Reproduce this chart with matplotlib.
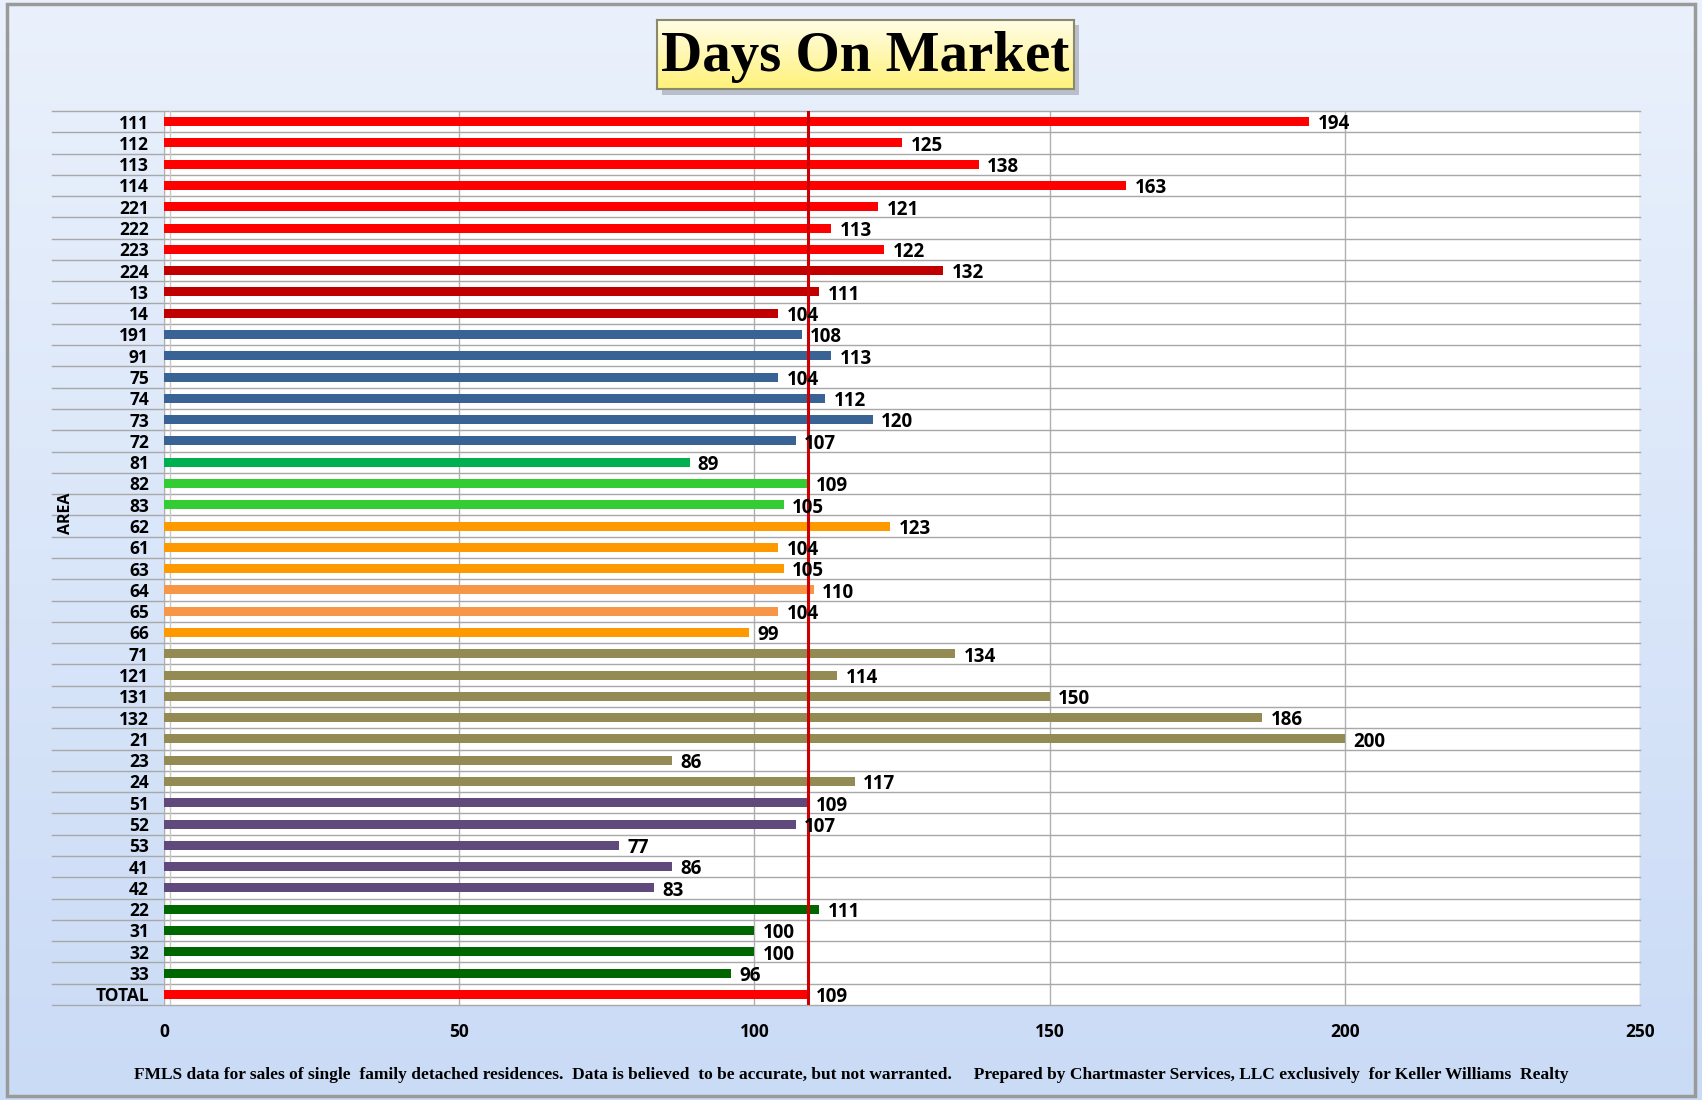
import numpy as np
import matplotlib
matplotlib.use("Agg")
import matplotlib.pyplot as plt
from matplotlib.patches import Rectangle
from matplotlib.transforms import blended_transform_factory

# Areas listed top to bottom with their days on market
areas = ["111", "112", "113", "114", "221", "222", "223", "224", "13", "14",
         "191", "91", "75", "74", "73", "72", "81", "82", "83", "62",
         "61", "63", "64", "65", "66", "71", "121", "131", "132", "21",
         "23", "24", "51", "52", "53", "41", "42", "22", "31", "32",
         "33", "TOTAL"]
days = [194, 125, 138, 163, 121, 113, 122, 132, 111, 104,
        108, 113, 104, 112, 120, 107, 89, 109, 105, 123,
        104, 105, 110, 104, 99, 134, 114, 150, 186, 200,
        86, 117, 109, 107, 77, 86, 83, 111, 100, 100,
        96, 109]
# colour group of each area
groups = ["red"] * 7 + ["darkred"] * 3 + ["blue"] * 6 + ["green"] + ["lime"] * 2 + \
         ["orange"] * 3 + ["lightorange"] * 2 + ["orange"] + ["khaki"] * 7 + \
         ["purple"] * 5 + ["darkgreen"] * 4 + ["red"]
total_days = 109
x_ticks = [0, 50, 100, 150, 200, 250]

palette = {
    "red": "#ff0000", "darkred": "#c00000", "blue": "#3a6395",
    "green": "#00b050", "lime": "#33cc33", "orange": "#ff9900",
    "lightorange": "#f79646", "khaki": "#948a54", "purple": "#604a7b",
    "darkgreen": "#006600",
}

fig = plt.figure(figsize=(17.02, 11), dpi=100)

# background gradient
bg = fig.add_axes([0, 0, 1, 1], zorder=-10)
grad = np.linspace(0, 1, 256).reshape(-1, 1)
bg.imshow(grad, aspect="auto", extent=[0, 1, 0, 1], origin="upper",
          cmap=matplotlib.colors.LinearSegmentedColormap.from_list("bg", ["#eaf1fc", "#cadbf6"]))
bg.add_patch(Rectangle((0.004, 0.004), 0.992, 0.992, fill=False, edgecolor="#9a9a9a", lw=2.5))
# shadow behind the title box
bg.add_patch(Rectangle((0.389, 0.914), 0.245, 0.063, facecolor="#9aa0aa", edgecolor="none", alpha=0.6))
bg.set_xlim(0, 1)
bg.set_ylim(0, 1)
bg.axis("off")

ax = fig.add_axes([0.0964, 0.0864, 0.8672, 0.8127])
ax.set_facecolor("white")
n = len(areas)
y = np.arange(n)
colors = [palette[g] for g in groups]
ax.barh(y, days, height=0.42, color=colors, zorder=3)

ax.set_xlim(0, 250)
ax.set_ylim(n - 0.5, -0.5)
ax.set_xticks(x_ticks)
ax.set_xticklabels([str(t) for t in x_ticks], fontsize=12.5, fontweight="bold", family="Open Sans")
ax.set_yticks(y)
ax.set_yticklabels(areas, fontsize=12.5, fontweight="bold", family="Open Sans")
ax.tick_params(axis="both", length=0)
ax.tick_params(axis="y", pad=11)
ax.tick_params(axis="x", pad=13)
ax.xaxis.grid(True, color="#b0b0b0", lw=1, zorder=1)
for s in ["top", "right", "bottom"]:
    ax.spines[s].set_visible(False)
ax.spines["left"].set_color("#b0b0b0")

# row separators running into the label column
trans = blended_transform_factory(ax.transAxes, ax.transData)
for b in np.arange(n + 1) - 0.5:
    ax.plot([-0.076, 1], [b, b], transform=trans, color="#a8a8a8", lw=1,
            clip_on=False, zorder=2)
ax.plot([1, 1], [-0.5, n - 0.5], color="#c8c8c8", lw=1, zorder=2)

# average line
ax.axvline(total_days, color="#cc0000", lw=2.2, zorder=4)

for yi, v in zip(y, days):
    ax.annotate(str(v), (v, yi), xytext=(6, -2), textcoords="offset points",
                va="center", ha="left", fontsize=13.5, fontweight="bold",
                family="Open Sans", zorder=5)

fig.text(0.0385, 0.533, "AREA", rotation=90, ha="center", va="center",
         fontsize=11.5, fontweight="bold", family="Open Sans")

# title box
tb = fig.add_axes([0.386, 0.919, 0.245, 0.063], zorder=5)
tgrad = np.linspace(0, 1, 128).reshape(-1, 1)
tb.imshow(tgrad, aspect="auto", extent=[0, 1, 0, 1], origin="upper",
          cmap=matplotlib.colors.LinearSegmentedColormap.from_list("tb", ["#fffde8", "#fff27a"]))
tb.set_xlim(0, 1)
tb.set_ylim(0, 1)
tb.set_xticks([])
tb.set_yticks([])
for s in tb.spines.values():
    s.set_color("#8a8a6a")
    s.set_linewidth(1.5)
tb.text(0.5, 0.46, "Days On Market", ha="center", va="center", fontsize=41,
        fontweight="bold", family="Liberation Serif")

fig.text(0.5, 0.023, "FMLS data for sales of single  family detached residences.  Data is believed  to be accurate, but not warranted.     "
         "Prepared by Chartmaster Services, LLC exclusively  for Keller Williams  Realty",
         ha="center", va="center", fontsize=12.5, fontweight="bold", family="Liberation Serif")

fig.savefig("out.png", dpi=100)
